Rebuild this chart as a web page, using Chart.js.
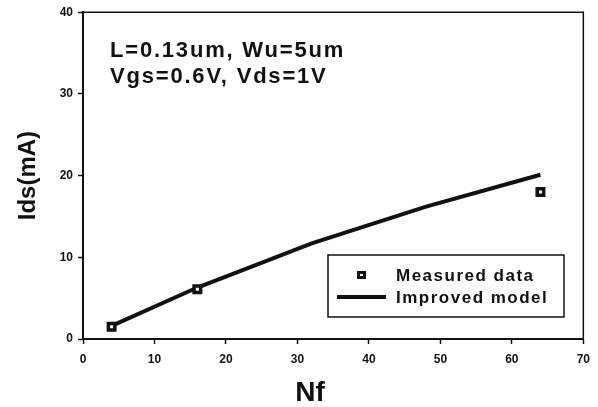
<!DOCTYPE html>
<html>
<head>
<meta charset="utf-8">
<script src="https://cdn.jsdelivr.net/npm/chart.js@4.4.0/dist/chart.umd.min.js"></script>
<style>
html,body{margin:0;padding:0;background:#fff;}
#wrap{width:598px;height:407px;position:relative;}
</style>
</head>
<body>
<div id="wrap"><canvas id="c" width="598" height="407"></canvas></div>
<script>
// ---- data ----
const measuredNf = [4, 16, 64];
const measuredIds = [1.5, 6.1, 18];
const modelNf = [4, 16, 32, 48, 64];
const modelIds = [1.6, 6.3, 11.7, 16.2, 20.1];
const xTicks = [0, 10, 20, 30, 40, 50, 60, 70];
const yTicks = [0, 10, 20, 30, 40];
const seriesNames = ['Measured data', 'Improved model'];
const annotationLines = ['L=0.13um, Wu=5um', 'Vgs=0.6V, Vds=1V'];
const xTitle = 'Nf';
const yTitle = 'Ids(mA)';

const FONT = '"Liberation Sans", Arial, sans-serif';
const INK = '#111';

const frameAndLegend = {
  id: 'frameAndLegend',
  afterDatasetsDraw(chart) {
    const ctx = chart.ctx;
    const a = chart.chartArea;
    ctx.save();
    // frame top/right
    ctx.strokeStyle = INK;
    ctx.lineWidth = 1.5;
    ctx.beginPath();
    ctx.moveTo(a.left, a.top);
    ctx.lineTo(a.right, a.top);
    ctx.lineTo(a.right, a.bottom);
    ctx.stroke();

    // annotation text
    ctx.fillStyle = INK;
    ctx.font = 'bold 22px ' + FONT;
    ctx.letterSpacing = '1.8px';
    ctx.textBaseline = 'alphabetic';
    ctx.textAlign = 'left';
    ctx.fillText(annotationLines[0], 110, 57);
    ctx.fillText(annotationLines[1], 110, 83);

    // x-axis title
    ctx.letterSpacing = '0px';
    ctx.font = 'bold 28px ' + FONT;
    ctx.textAlign = 'center';
    ctx.textBaseline = 'middle';
    ctx.fillText(xTitle, 310, 393);

    // legend box
    const bx = 328, by = 255, bw = 236, bh = 62;
    ctx.fillStyle = '#fff';
    ctx.fillRect(bx, by, bw, bh);
    ctx.strokeStyle = INK;
    ctx.lineWidth = 1.5;
    ctx.strokeRect(bx, by, bw, bh);
    // marker
    ctx.fillStyle = INK;
    ctx.fillRect(357, 271, 9, 8);
    ctx.fillStyle = '#fff';
    ctx.fillRect(360, 274, 3, 2);
    // line
    ctx.strokeStyle = INK;
    ctx.lineWidth = 4;
    ctx.beginPath();
    ctx.moveTo(337, 297);
    ctx.lineTo(386, 297);
    ctx.stroke();
    ctx.fillStyle = INK;
    ctx.font = 'bold 17px ' + FONT;
    ctx.letterSpacing = '1.5px';
    ctx.textAlign = 'left';
    ctx.textBaseline = 'middle';
    ctx.fillText(seriesNames[0], 396, 276);
    ctx.fillText(seriesNames[1], 396, 298);
    ctx.restore();
  }
};

new Chart(document.getElementById('c'), {
  type: 'scatter',
  data: {
    datasets: [
      {
        label: seriesNames[1],
        data: modelNf.map((x, i) => ({x, y: modelIds[i]})),
        showLine: true,
        borderColor: INK,
        borderWidth: 4,
        pointRadius: 0,
        tension: 0,
        order: 2
      },
      {
        label: seriesNames[0],
        data: measuredNf.map((x, i) => ({x, y: measuredIds[i]})),
        showLine: false,
        pointStyle: 'rect',
        pointRadius: 4.6,
        borderWidth: 3.5,
        borderColor: INK,
        backgroundColor: '#fff',
        order: 1
      }
    ]
  },
  options: {
    responsive: false,
    animation: false,
    devicePixelRatio: 1,
    layout: { padding: { left: 0, right: 12, top: 11, bottom: 0 } },
    plugins: { legend: { display: false }, tooltip: { enabled: false } },
    scales: {
      x: {
        type: 'linear',
        min: 0, max: 70,
        afterBuildTicks: s => { s.ticks = xTicks.map(v => ({value: v})); },
        afterFit: s => { s.height = 68; },
        grid: { display: true, drawOnChartArea: false, drawTicks: true, tickLength: 5, color: INK, tickWidth: 1.5 },
        border: { display: true, color: INK, width: 2 },
        ticks: { color: INK, padding: 8, maxRotation: 0, font: { family: FONT, size: 12, weight: 'bold' } },
        title: { display: false }
      },
      y: {
        type: 'linear',
        min: 0, max: 40,
        afterBuildTicks: s => { s.ticks = yTicks.map(v => ({value: v})); },
        afterFit: s => { s.width = 83; },
        grid: { display: true, drawOnChartArea: false, drawTicks: true, tickLength: 5, color: INK, tickWidth: 1.5 },
        border: { display: true, color: INK, width: 2 },
        ticks: { color: INK, padding: 5, font: { family: FONT, size: 12, weight: 'bold' } },
        title: { display: true, text: yTitle, color: INK, padding: { top: 16, bottom: 0 }, font: { family: FONT, size: 24, weight: 'bold', lineHeight: 1 } }
      }
    }
  },
  plugins: [frameAndLegend]
});
</script>
</body>
</html>
